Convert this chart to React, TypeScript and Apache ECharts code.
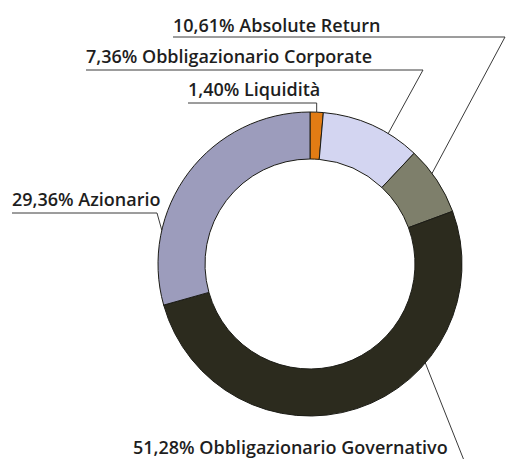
import React, { useEffect, useRef } from "react";
import * as echarts from "echarts";

const categories = [
  "Liquidità",
  "Absolute Return",
  "Obbligazionario Corporate",
  "Obbligazionario Governativo",
  "Azionario",
];
const values = [1.4, 10.61, 7.36, 51.28, 29.36];
const colors = ["#e27c14", "#d3d5f1", "#7e7f6b", "#2c2b1e", "#9c9cbc"];

// layout of the callout labels (text position, underline, bend, pointer target)
const CX = 310;
const CY = 264;
const R_IN = 105;
const R_OUT = 152;
const callouts = [
  { x: 188, y: 89, ul: 103, bendX: null as number | null, seg: 0, frac: 0.5, r: 152 },
  { x: 173, y: 25, ul: 37, bendX: 505, seg: 2, frac: 0.6, r: 126 },
  { x: 86, y: 56, ul: 70, bendX: 423, seg: 1, frac: 0.7, r: 110 },
  { x: 133, y: 447, ul: 478, bendX: 471, seg: 3, frac: 0.33, r: 152 },
  { x: 12, y: 199, ul: 213, bendX: 157, seg: 4, frac: 0.27, r: 152 },
];

function fmt(v: number) {
  return v.toFixed(2).replace(".", ",") + "%";
}

function targetPoint(seg: number, frac: number, r: number) {
  const total = values.reduce((a, b) => a + b, 0);
  let cum = 0;
  for (let i = 0; i < seg; i++) cum += values[i];
  const theta = ((cum + frac * values[seg]) / total) * 2 * Math.PI;
  return [CX + r * Math.sin(theta), CY - r * Math.cos(theta)];
}

export default function App() {
  const ref = useRef<HTMLDivElement>(null);
  useEffect(() => {
    if (!ref.current) return;
    const chart = echarts.init(ref.current, null, { renderer: "svg" });
    chart.setOption({
      animation: false,
      backgroundColor: "#ffffff",
      series: [
        {
          type: "pie",
          center: [CX, CY],
          radius: [R_IN, R_OUT],
          startAngle: 90,
          clockwise: true,
          avoidLabelOverlap: false,
          itemStyle: { borderColor: "#1c1c16", borderWidth: 1 },
          label: {
            show: true,
            position: "outside",
            formatter: (p: any) => fmt(p.value) + " " + p.name,
            fontFamily: "Open Sans",
            fontSize: 18,
            fontWeight: 600,
            color: "#1e1e1e",
            padding: 0,
          },
          labelLine: {
            show: true,
            lineStyle: { color: "#3a3a3a", width: 1 },
          },
          labelLayout: (params: any) => {
            const c = callouts[params.dataIndex];
            const t = targetPoint(c.seg, c.frac, c.r);
            const bx = c.bendX == null ? t[0] : c.bendX;
            return {
              x: c.x,
              y: c.y,
              align: "left",
              verticalAlign: "middle",
              labelLinePoints: [t, [bx, c.ul], [c.x, c.ul]],
            };
          },
          data: categories.map((name, i) => ({
            name,
            value: values[i],
            itemStyle: { color: colors[i] },
          })),
        },
      ],
    });
    return () => chart.dispose();
  }, []);
  return (
    <div
      ref={ref}
      style={{ position: "absolute", left: 0, top: 0, width: 506, height: 459 }}
    />
  );
}
